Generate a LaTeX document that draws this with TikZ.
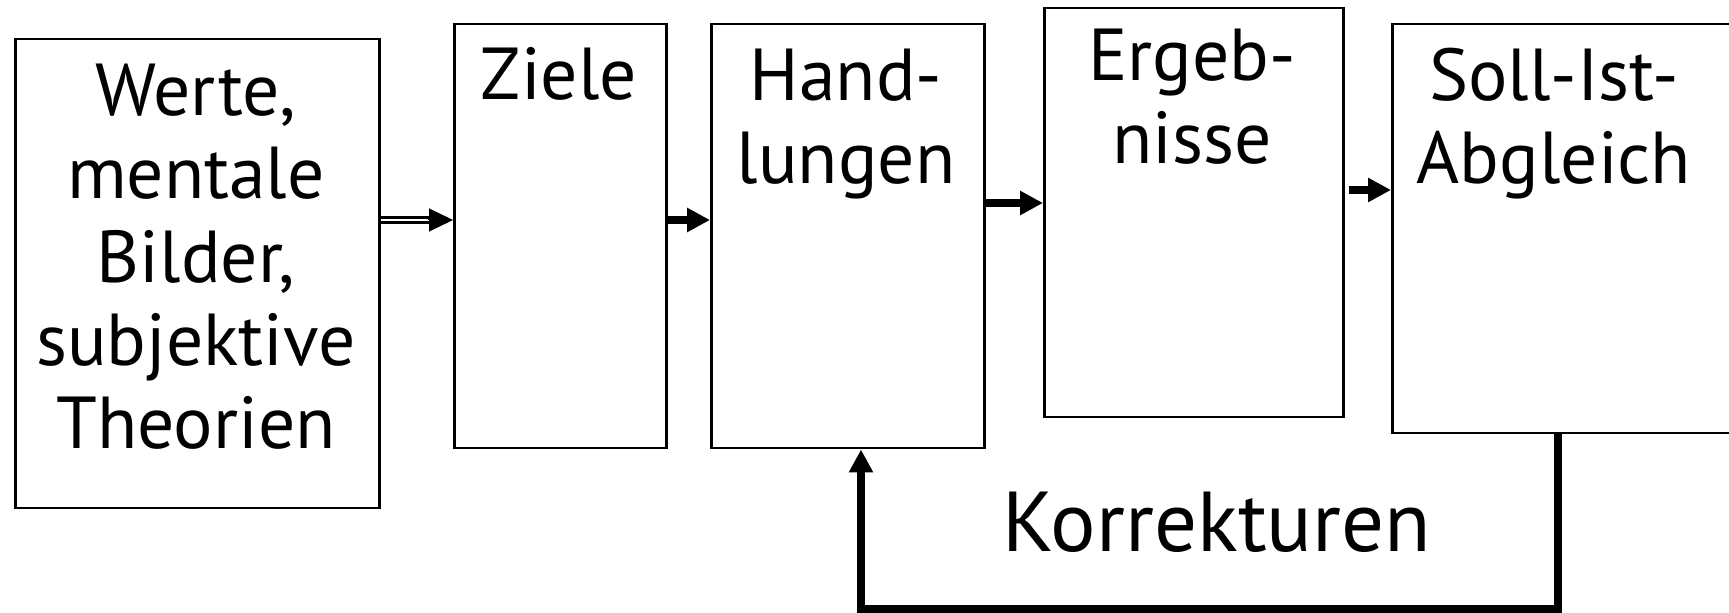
\documentclass[tikz,border=0pt]{standalone}
\usepackage{fontspec}
\setmainfont{PT Sans}
\usetikzlibrary{arrows.meta}
\begin{document}
\begin{tikzpicture}[x=0.5pt,y=-0.5pt,
  box/.style={draw=black, line width=1.25pt, inner sep=0pt, anchor=north west},
  txt/.style={font=\fontsize{36.8}{41.7}\selectfont, align=center, inner sep=0pt, anchor=base},
  korr/.style={font=\fontsize{42.5}{48}\selectfont, inner sep=0pt, anchor=base},
  thickarrow/.style={line width=4pt, -{Triangle[length=11.5pt,width=11.5pt]}},
  headonly/.style={line width=0.5pt, -{Triangle[length=12pt,width=11.5pt]}},
  dblline/.style={double=white, double distance=1.35pt, line width=1.35pt},
  feedback/.style={line width=4pt, line join=miter, -{Triangle[length=11.5pt,width=11.5pt]}}]
\useasboundingbox (0,0) rectangle (1729,613);
% boxes
\node[box, minimum width=182pt, minimum height=234.5pt] (b1) at (14,38) {};
\node[box, minimum width=106pt, minimum height=212pt] (b2) at (453,23) {};
\node[box, minimum width=136.5pt, minimum height=212pt] (b3) at (710,23) {};
\node[box, minimum width=149.5pt, minimum height=204.5pt] (b4) at (1043,7) {};
\node[box, minimum width=177pt, minimum height=204.5pt] (b5) at (1391,23) {};
% texts (anchor base = baseline of the last line)
\node[txt] (t1) at (196,449) {Werte,\\mentale\\Bilder,\\subjektive\\Theorien};
\node[txt] (t2) at (559,100) {Ziele};
\node[txt] (t3) at (846,184) {Hand-\\lungen};
\node[txt] (t4) at (1192,164) {Ergeb-\\nisse};
\node[txt] (t5) at (1554,184) {Soll-Ist-\\Abgleich};
\node[korr] (k) at (1217,552) {Korrekturen};
% arrow 1 (double shaft)
\coordinate (a1s) at (b1.east |- 0,220);
\coordinate (a1e) at (b2.west |- 0,220);
\draw[dblline] (a1s) -- ([xshift=-11.5pt]a1e);
\draw[headonly] ([xshift=-12.5pt]a1e) -- (a1e);
% thick arrows
\draw[thickarrow] (b2.east |- 0,220) -- (b3.west |- 0,220);
\draw[thickarrow] (b3.east |- 0,203) -- (b4.west |- 0,203);
\coordinate (a4s) at (b4.east |- 0,190);
\draw[thickarrow] ([xshift=2pt]a4s) -- (b5.west |- 0,190);
% feedback loop
\coordinate (fa) at (861,609);
\coordinate (fb) at (1558,609);
\draw[feedback] (b5.south -| fb) -- (fb) -- (fa) -- (b3.south -| fa);
\end{tikzpicture}
\end{document}
